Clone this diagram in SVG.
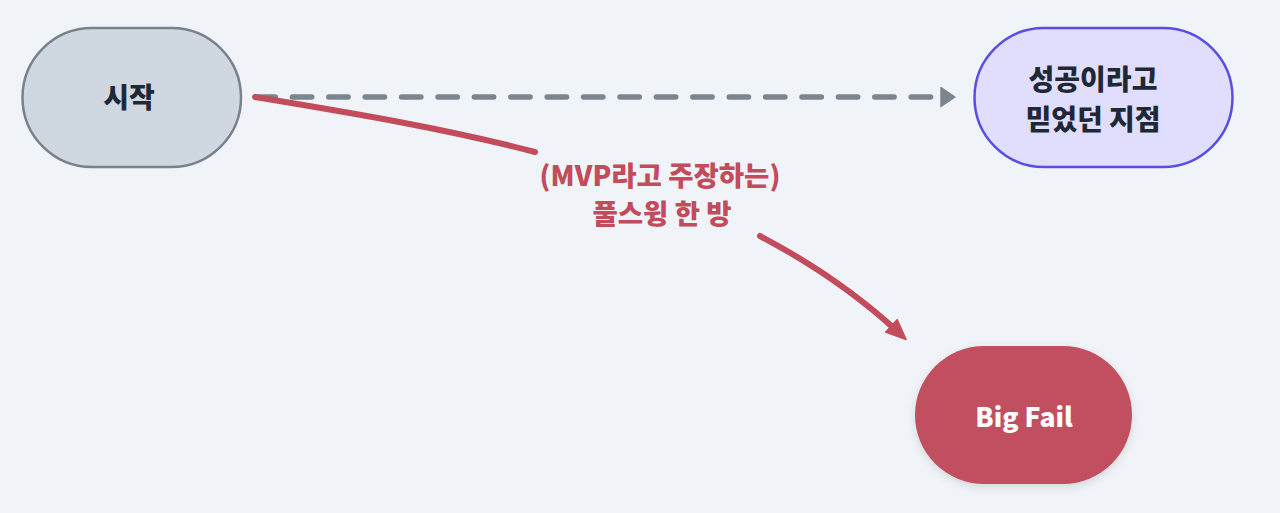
<svg xmlns="http://www.w3.org/2000/svg" width="1280" height="513" viewBox="0 0 1280 513">
  <defs>
    <marker id="arrowGray" markerUnits="userSpaceOnUse" markerWidth="16" markerHeight="22" viewBox="0 0 16 22" refX="1" refY="11" orient="auto">
      <path d="M1,1.5 L15,11 L1,20.5 Z" fill="#7b8590" stroke="#7b8590" stroke-width="1.5" stroke-linejoin="round"/>
    </marker>
    <marker id="arrowRed" markerUnits="userSpaceOnUse" markerWidth="22" markerHeight="20" viewBox="0 0 22 20" refX="10" refY="10" orient="auto">
      <path d="M1,1.5 L21,10 L1,18.5 Z" fill="#c24c5c" stroke="#c24c5c" stroke-width="1.5" stroke-linejoin="round"/>
    </marker>
    <filter id="shadow" x="-20%" y="-20%" width="140%" height="150%">
      <feDropShadow dx="0" dy="3" stdDeviation="4" flood-color="#000000" flood-opacity="0.12"/>
    </filter>
  </defs>
  <style>
    .lbl { font-family: "Noto Sans CJK KR", "Noto Sans", sans-serif; font-weight: 800; font-size: 28px; text-anchor: middle; dominant-baseline: central; }
    .edge { font-size: 27.5px; }
    .latin { font-size: 26.5px; }
    .dark { fill: #1f2935; }
    .red { fill: #c24c5c; }
    .white { fill: #ffffff; }
  </style>
  <rect x="0" y="0" width="1280" height="513" fill="#f0f4f8"/>

  <g id="connectors">
    <line x1="256" y1="97" x2="941" y2="97" stroke="#7b8590" stroke-width="5.5" stroke-linecap="round" stroke-dasharray="19.3 17.1" marker-end="url(#arrowGray)"/>
    <path d="M255,97 C346.8,112.2 442.3,127.8 535,152" fill="none" stroke="#c24c5c" stroke-width="6" stroke-linecap="round"/>
    <path d="M760,236 C812,263.4 858,295 898,332" fill="none" stroke="#c24c5c" stroke-width="6" stroke-linecap="round" marker-end="url(#arrowRed)"/>
    <text class="lbl edge red" x="660" y="174">(MVP라고 주장하는)</text>
    <text class="lbl edge red" x="662" y="212">풀스윙 한 방</text>
  </g>

  <g id="node-start">
    <rect x="22.5" y="28" width="218.5" height="139" rx="69.5" ry="69.5" fill="#cfd8e0" stroke="#79818c" stroke-width="2.5"/>
    <text class="lbl dark" x="129" y="96">시작</text>
  </g>

  <g id="node-success">
    <rect x="974.5" y="28" width="258" height="139" rx="69.5" ry="69.5" fill="#e0defc" stroke="#5a4de3" stroke-width="2.5"/>
    <text class="lbl dark" x="1093" y="78">성공이라고</text>
    <text class="lbl dark" x="1093" y="118">믿었던 지점</text>
  </g>

  <g id="node-fail">
    <rect x="915" y="346" width="217" height="138" rx="69" ry="69" fill="#c24f5e" filter="url(#shadow)"/>
    <text class="lbl latin white" x="1024" y="415">Big Fail</text>
  </g>
</svg>
